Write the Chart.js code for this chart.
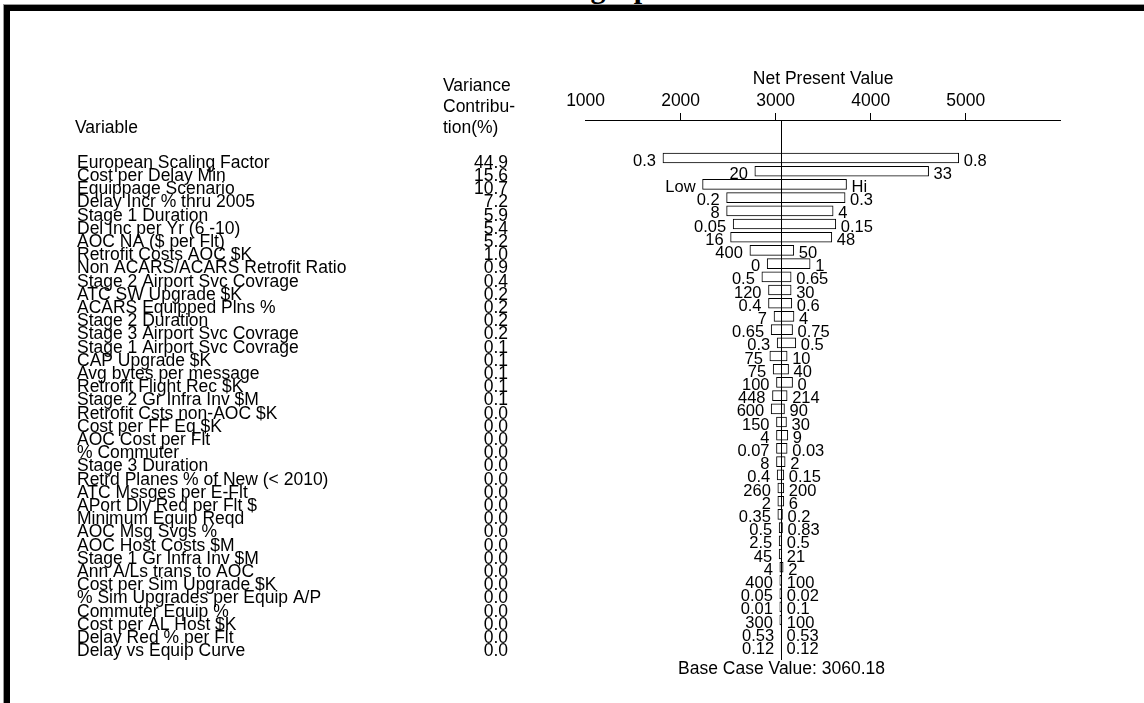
<!DOCTYPE html>
<html>
<head>
<meta charset="utf-8">
<title>Tornado graph</title>
<script src="https://cdn.jsdelivr.net/npm/chart.js@4.4.0/dist/chart.umd.min.js"></script>
<style>
  html, body { margin: 0; padding: 0; background: #fff; overflow: hidden; }
  body { width: 1144px; height: 703px; position: relative; }
  #title { position: absolute; left: 474px; top: -27px; font: bold 30px "Liberation Serif", serif; line-height: 30px; white-space: nowrap; }
  #frame { position: absolute; left: 4px; top: 5px; width: 1200px; height: 800px; border-top: 6px solid #000; border-left: 6px solid #000; box-shadow: -1px -1px 0 #9a9a9a; }
  #wrap { position: absolute; left: 0; top: 0; width: 1144px; height: 703px; }
</style>
</head>
<body>
<div id="title">Tornado graph</div>
<div id="frame"></div>
<div id="wrap"><canvas id="tornado" width="1144" height="703"></canvas></div>
<script>
// DATA
const variables = [
  "European Scaling Factor", "Cost per Delay Min", "Equippage Scenario", "Delay Incr % thru 2005",
  "Stage 1 Duration", "Del Inc per Yr (6 -10)", "AOC NA ($ per Flt)", "Retrofit Costs AOC $K",
  "Non ACARS/ACARS Retrofit Ratio", "Stage 2 Airport Svc Covrage", "ATC SW Upgrade $K", "ACARS Equipped Plns %",
  "Stage 2 Duration", "Stage 3 Airport Svc Covrage", "Stage 1 Airport Svc Covrage", "CAP Upgrade $K",
  "Avg bytes per message", "Retrofit Flight Rec $K", "Stage 2 Gr Infra Inv $M", "Retrofit Csts non-AOC $K",
  "Cost per FF Eq $K", "AOC Cost per Flt", "% Commuter", "Stage 3 Duration",
  "Retrd Planes % of New (< 2010)", "ATC Mssges per E-Flt", "APort Dly Red per Flt $", "Minimum Equip Reqd",
  "AOC Msg Svgs %", "AOC Host Costs $M", "Stage 1 Gr Infra Inv $M", "Ann A/Ls trans to AOC",
  "Cost per Sim Upgrade $K", "% Sim Upgrades per Equip A/P", "Commuter Equip %", "Cost per AL Host $K",
  "Delay Red % per Flt", "Delay vs Equip Curve"
];
const varianceContrib = [
  "44.9", "15.6", "10.7", "7.2", "5.9", "5.4", "5.2", "1.0", "0.9", "0.4",
  "0.2", "0.2", "0.2", "0.2", "0.1", "0.1", "0.1", "0.1", "0.1", "0.0",
  "0.0", "0.0", "0.0", "0.0", "0.0", "0.0", "0.0", "0.0", "0.0", "0.0",
  "0.0", "0.0", "0.0", "0.0", "0.0", "0.0", "0.0", "0.0"
];
// input values printed at each end of the bars
const leftInputs = [
  "0.3", "20", "Low", "0.2", "8", "0.05", "16", "400", "0", "0.5",
  "120", "0.4", "7", "0.65", "0.3", "75", "75", "100", "448", "600",
  "150", "4", "0.07", "8", "0.4", "260", "2", "0.35", "0.5", "2.5",
  "45", "4", "400", "0.05", "0.01", "300", "0.53", "0.12"
];
const rightInputs = [
  "0.8", "33", "Hi", "0.3", "4", "0.15", "48", "50", "1", "0.65",
  "30", "0.6", "4", "0.75", "0.5", "10", "40", "0", "214", "90",
  "30", "9", "0.03", "2", "0.15", "200", "6", "0.2", "0.83", "0.5",
  "21", "2", "100", "0.02", "0.1", "100", "0.53", "0.12"
];
// net present value at the left / right end of each bar
const npvLeft = [
  1814, 2781, 2231, 2484, 2484, 2553, 2526, 2729, 2911, 2855,
  2925, 2925, 2983, 2953, 3016, 2939, 2974, 3009, 2967, 2953,
  3009, 3009, 3009, 3009, 3016, 3023, 3023, 3023, 3037, 3037,
  3037, 3044, 3044, 3044, 3044, 3044, 3058, 3058
];
const npvRight = [
  4927, 4610, 3746, 3731, 3605, 3633, 3591, 3191, 3363, 3163,
  3163, 3170, 3193, 3178, 3212, 3121, 3136, 3178, 3121, 3093,
  3114, 3128, 3121, 3100, 3086, 3086, 3086, 3072, 3072, 3065,
  3065, 3079, 3065, 3065, 3065, 3065, 3062, 3062
];
const baseCase = 3060.18;
const npvTicks = [1000, 2000, 3000, 4000, 5000];

const FONT = '"Liberation Sans", Arial, sans-serif';
Chart.defaults.font.family = FONT;
Chart.defaults.font.size = 17.5;
Chart.defaults.color = "#000";

// TEXT COLUMNS, BASE LINE AND BAR LABELS
const tornadoText = {
  id: "tornadoText",
  afterDatasetsDraw(chart) {
    const ctx = chart.ctx;
    const xs = chart.scales.x, ys = chart.scales.y;
    const area = chart.chartArea;
    ctx.save();
    ctx.fillStyle = "#000";
    ctx.strokeStyle = "#000";

    // base case line
    const bx = Math.round(xs.getPixelForValue(baseCase)) + 0.5;
    ctx.lineWidth = 1;
    ctx.beginPath();
    ctx.moveTo(bx, area.top);
    ctx.lineTo(bx, area.bottom);
    ctx.stroke();

    // headers
    ctx.font = "17.5px " + FONT;
    ctx.textBaseline = "middle";
    ctx.textAlign = "left";
    ctx.fillText("Variable", 75, 128);
    ctx.fillText("Variance", 443, 86);
    ctx.fillText("Contribu-", 443, 107);
    ctx.fillText("tion(%)", 443, 128);

    variables.forEach((name, i) => {
      const y = ys.getPixelForValue(i);
      ctx.font = "17.5px " + FONT;
      ctx.textAlign = "left";
      ctx.fillText(name, 77, y + 5);
      ctx.textAlign = "right";
      ctx.fillText(varianceContrib[i], 508, y + 5);

      const xl = xs.getPixelForValue(npvLeft[i]);
      const xr = xs.getPixelForValue(npvRight[i]);
      ctx.font = "16.5px " + FONT;
      ctx.textAlign = "right";
      ctx.fillText(leftInputs[i], xl - 7, y + 3);
      ctx.textAlign = "left";
      ctx.fillText(rightInputs[i], xr + 5, y + 3);
    });

    ctx.font = "17.5px " + FONT;
    ctx.textAlign = "center";
    ctx.fillText("Base Case Value: " + baseCase.toFixed(2), bx, area.bottom + 9);
    ctx.restore();
  }
};

new Chart(document.getElementById("tornado"), {
  type: "bar",
  data: {
    datasets: [{
      data: variables.map((v, i) => ({ x: [npvLeft[i], npvRight[i]], y: i })),
      backgroundColor: "#fff",
      borderColor: "#000",
      borderWidth: 1,
      borderSkipped: false,
      barThickness: 10
    }]
  },
  options: {
    indexAxis: "y",
    responsive: false,
    animation: false,
    devicePixelRatio: 1,
    layout: { padding: { left: 585.6, right: 83.3, top: 69, bottom: 43 } },
    plugins: { legend: { display: false }, tooltip: { enabled: false } },
    scales: {
      x: {
        type: "linear",
        position: "top",
        min: 1000,
        max: 6000,
        ticks: {
          stepSize: 1000,
          padding: 1,
          color: "#000",
          callback: (v) => npvTicks.includes(v) ? String(v) : ""
        },
        grid: {
          drawOnChartArea: false,
          drawTicks: true,
          tickLength: 7,
          color: (c) => (c.tick && npvTicks.includes(c.tick.value) && c.tick.value !== 1000) ? "#000" : "rgba(0,0,0,0)"
        },
        border: { display: true, color: "#000", width: 1 },
        title: { display: true, text: "Net Present Value", color: "#000", padding: 0 }
      },
      y: {
        type: "linear",
        reverse: true,
        offset: false,
        min: -2.88,
        max: 38.03,
        display: false
      }
    }
  },
  plugins: [tornadoText]
});
</script>
</body>
</html>
